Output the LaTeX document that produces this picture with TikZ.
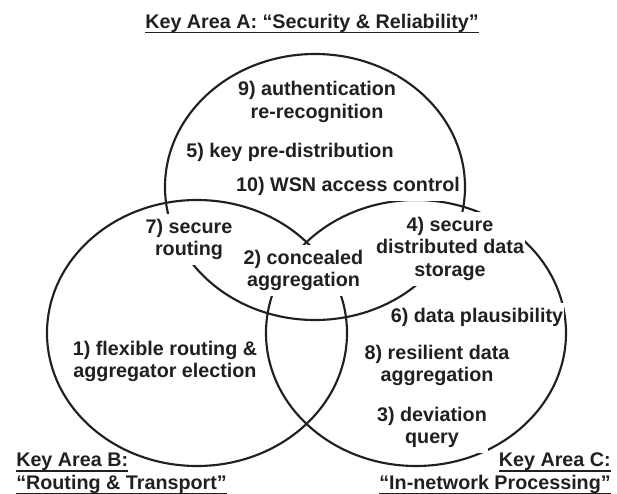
\documentclass[tikz,border=0pt]{standalone}
\usepackage{fontspec}
\setmainfont{Liberation Sans}
\definecolor{ink}{HTML}{231F20}
% strut giving every text line the same height and depth
\newcommand\lblstrut{\rule[-4.875pt]{0pt}{16.875pt}}
% underline sitting a little below the baseline
\newcommand\keyline[1]{\setbox0=\hbox{#1}\rlap{\rule[-3.8pt]{\wd0}{1.1pt}}\box0\lblstrut}
\tikzset{
  area/.style={draw=ink, line width=1.6pt},
  lbl/.style={font=\fontsize{14.8pt}{16.875pt}\selectfont\bfseries, text=ink,
    align=center, fill=white, inner xsep=1pt, inner ysep=2.5pt},
  head/.style={font=\fontsize{14.8pt}{16.875pt}\selectfont\bfseries, text=ink,
    inner sep=0pt},
}
\begin{document}
\begin{tikzpicture}[x=0.75pt,y=-0.75pt]
  \useasboundingbox (0,0) rectangle (617,493);

  % the three key areas
  \coordinate (A) at (315,187);
  \coordinate (B) at (197,333);
  \coordinate (C) at (416,333);
  \draw[area] (A) ellipse [x radius=112.5pt, y radius=99.75pt];
  \draw[area] (B) ellipse [x radius=112.5pt, y radius=99.75pt];
  \draw[area] (C) ellipse [x radius=112.5pt, y radius=99.75pt];

  % headings
  \node[head, align=center] (headA) at (312,23.25)
    {\keyline{Key Area A: “Security \& Reliability”}};
  \node[head, align=left, anchor=west] (headB) at (16,473)
    {\keyline{Key Area B:}\\\keyline{“Routing \& Transport”}};
  \node[head, align=right, anchor=east] (headC) at (611,473)
    {\keyline{Key Area C:}\\\keyline{“In-network Processing”}};

  % topics
  \node[lbl] (t9) at (317,102)
    {9) authentication\lblstrut\\re-recognition\lblstrut};
  \node[lbl] (t5) at (290,152.25) {5) key pre-distribution\lblstrut};
  \node[lbl] (t10) at (348,186.25) {10) WSN access control\lblstrut};
  \node[lbl] (t7) at (189,239.5) {7) secure\lblstrut\\routing\lblstrut};
  \node[lbl] (t2) at (303.5,270.5)
    {2) concealed\lblstrut\\aggregation\lblstrut};
  \node[lbl] (t4) at (450,248.75)
    {4) secure\lblstrut\\distributed data\lblstrut\\storage\lblstrut};
  \node[lbl] (t6) at (477,317.25) {6) data plausibility\lblstrut};
  \node[lbl] (t1) at (165,361.5)
    {1) flexible routing \&\lblstrut\\aggregator election\lblstrut};
  \node[lbl] (t8) at (437,365.5)
    {8) resilient data\lblstrut\\aggregation\lblstrut};
  \node[lbl] (t3) at (432,427.5) {3) deviation\lblstrut\\query\lblstrut};
\end{tikzpicture}
\end{document}
